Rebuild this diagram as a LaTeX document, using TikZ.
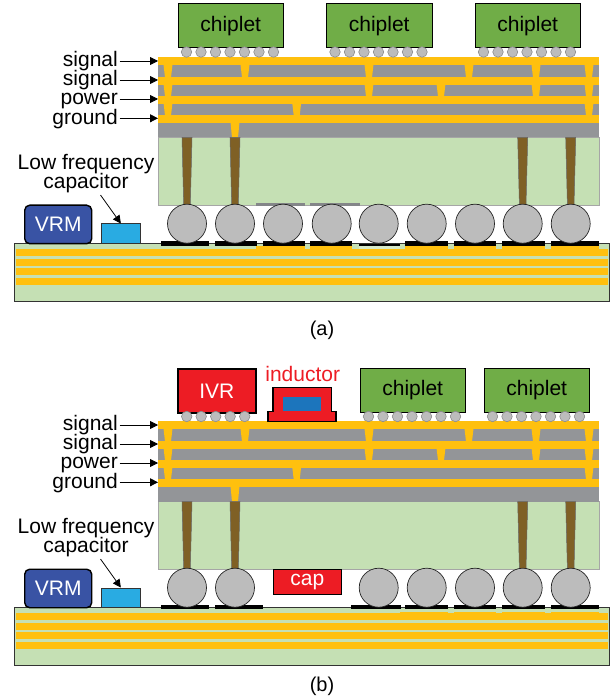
\documentclass[tikz,border=0pt]{standalone}
\usepackage{fontspec}
\setmainfont{Liberation Sans}
\usepackage{xcolor}
\usepackage{tikz}
\usetikzlibrary{arrows.meta,positioning}
\definecolor{pkgGreen}{HTML}{C5E0B4}
\definecolor{pkgOrange}{HTML}{FFC00E}
\definecolor{pkgGray}{HTML}{939598}
\definecolor{pkgBrown}{HTML}{7F6025}
\definecolor{pkgBall}{HTML}{BCBCBC}
\definecolor{pkgChip}{HTML}{70AD47}
\definecolor{pkgRed}{HTML}{ED1C24}
\definecolor{pkgVrm}{HTML}{3953A4}
\definecolor{pkgCap}{HTML}{29ABE2}
\definecolor{pkgBlue}{HTML}{1C75BC}
\tikzset{
  txt/.style={font=\fontsize{21}{19}\selectfont, inner sep=0pt, align=center},
  chiplet/.style={txt, draw=black, line width=0.9pt, fill=pkgChip, minimum width=105.5pt, minimum height=43.5pt, anchor=north west},
  ivr/.style={txt, text=white, draw=black, line width=1.6pt, fill=pkgRed, minimum width=78pt, minimum height=44pt, anchor=north west},
  vrm/.style={txt, text=white, draw=black, line width=1.4pt, fill=pkgVrm, rounded corners=5pt, minimum width=67pt, minimum height=38.5pt, anchor=north west},
  lfcap/.style={draw=black!80, line width=0.7pt, fill=pkgCap, minimum width=39pt, minimum height=19.5pt, inner sep=0pt, anchor=north west},
  ballcap/.style={txt, text=white, draw=black, line width=1.2pt, fill=pkgRed, minimum width=68pt, minimum height=25pt, anchor=north west},
  ball/.style={circle, draw=black!85, line width=0.7pt, fill=pkgBall, minimum size=39pt, inner sep=0pt},
  ubump/.style={circle, draw=black!45, line width=0.6pt, fill=pkgBall, minimum size=10.5pt, inner sep=0pt},
  lbl/.style={txt, anchor=east, text height=15pt, text depth=3.5pt},
  lblarrow/.style={-{Triangle[length=8pt,width=8pt]}, line width=0.8pt},
  metal/.style={fill=pkgOrange},
  tsv/.style={fill=pkgBrown, draw=black!60, line width=0.5pt}
}
% trapezoid via: centre x, top y, bottom y
\newcommand{\pkgvia}[3]{\fill[metal] (#1-4.5,#2-0.5) -- (#1+4.5,#2-0.5) -- (#1+3,#3+0.5) -- (#1-3,#3+0.5) -- cycle;}
% the part both drawings share: interposer, routing layers, TSVs, board, VRM and labels
\newcommand{\pkgcommon}{
  % board
  \draw[fill=pkgGreen, draw=black!80, line width=0.8pt] (14.5,243) rectangle (609,301);
  \foreach \y in {249,259,268,278}
    \fill[metal] (15.5,\y) rectangle (608,\y+7);
  % interposer
  \draw[fill=pkgGreen, draw=black!35, line width=0.7pt] (158,137) rectangle (599,205);
  \fill[pkgGray] (158,57) rectangle (599,137.5);
  \foreach \y in {57,77,96,115}
    \fill[metal] (158,\y) rectangle (599,\y+8);
  \foreach \x in {168,245,369,469,536,589} {\pkgvia{\x}{65}{77}}
  \foreach \x in {168,369,441,536,589} {\pkgvia{\x}{84}{96}}
  \foreach \x in {168,296.7,589} {\pkgvia{\x}{103}{115}}
  \pkgvia{235}{122.5}{137}
  \foreach \x in {187,235,522.7,570.7}
    \draw[tsv] (\x-5,137.5) -- (\x+5,137.5) -- (\x+3.3,205) -- (\x-3.3,205) -- cycle;
  % labels
  \node[lbl] (sig1) at (118,61) {signal};
  \node[lbl] (sig2) at (118,80) {signal};
  \node[lbl] (pwr) at (118,99) {power};
  \node[lbl] (gnd) at (118,118.3) {ground};
  \coordinate (sig1in) at (158,61);
  \coordinate (sig2in) at (158,80);
  \coordinate (pwrin) at (158,99);
  \coordinate (gndin) at (158,118.3);
  \draw[lblarrow, shorten <=1.5pt] (sig1) -- (sig1in);
  \draw[lblarrow, shorten <=1.5pt] (sig2) -- (sig2in);
  \draw[lblarrow, shorten <=1.5pt] (pwr) -- (pwrin);
  \draw[lblarrow, shorten <=1.5pt] (gnd) -- (gndin);
  \node[vrm] (vrm) at (24,204.5) {VRM};
  \node[lfcap] (lfc) at (101,223.5) {};
  \node[txt] (lftxt) at (86,173.8) {Low frequency\\[-1.5pt]capacitor};
  \coordinate (lfstart) at (100.5,195);
  \draw[lblarrow] (lfstart) -- (lfc.north);
}
\begin{document}
\begin{tikzpicture}[x=1pt,y=-1pt]
  \useasboundingbox (0,0) rectangle (612,700);
  \begin{scope}[name prefix=a-]
    \pkgcommon
    % pads
    \foreach \x/\w in {256/49,310/42,405/43,454/42,502/43,551/48}
      \fill[metal] (\x,246) rectangle (\x+\w,249);
    \fill[pkgGreen!70!white] (359,246) rectangle (400,249);
    \foreach \x/\w in {161/48,215/42,263/42,310/42,405/43,454/42,502/43,551/48}
      \fill[black] (\x,241) rectangle (\x+\w,246);
    \fill[black] (359,244.5) rectangle (400,246);
    \fill[pkgGray!90!black] (256,203) rectangle (305,206.5);
    \fill[pkgGray!90!black] (310,203) rectangle (360,206.5);
    \foreach \x [count=\i] in {187,235,283,331.7,378.7,426.7,475,522.7,570.7}
      \node[ball] (b\i) at (\x,223.7) {};
    \foreach \x [count=\i] in {177.5,326,474.5} {
      \node[chiplet] (chip\i) at (\x,3.5) {chiplet};
      \foreach \k in {0,...,6}
        \node[ubump] (u\i\k) at (\x+9+14.5*\k,52) {};
    }
    \node[txt, font=\fontsize{20}{20}\selectfont, anchor=base] (cap) at (322,335) {(a)};
  \end{scope}
  \begin{scope}[yshift=-364pt, name prefix=b-]
    \pkgcommon
    % pads
    \foreach \x/\w in {400/48,454/42,502/43,551/48}
      \fill[metal] (\x,247.5) rectangle (\x+\w,249);
    \foreach \x/\w in {161/48,215/48,351/50,405/43,454/42,502/43,551/48}
      \fill[black] (\x,241) rectangle (\x+\w,244.7);
    \foreach \x [count=\i] in {187,235,378.7,426.7,475,522.7,570.7}
      \node[ball] (b\i) at (\x,223.7) {};
    \node[ballcap] (dcap) at (272.7,205) {cap};
    \node[ivr] (ivr) at (177,4) {IVR};
    \foreach \k in {0,...,4}
      \node[ubump] (uv\k) at (186.7+14.5*\k,52.5) {};
    \draw[fill=pkgRed, draw=black, line width=1.5pt] (268,57.5) -- (268,47.5) -- (273,47.5) -- (273,23.5) -- (331.5,23.5) -- (331.5,47.5) -- (336,47.5) -- (336,57.5) -- cycle;
    \fill[pkgBlue] (283.3,33.3) rectangle (321,47.3);
    \node[txt, text=pkgRed] (ind) at (302.7,10) {inductor};
    \foreach \x [count=\i] in {359.5,483.5} {
      \node[chiplet] (chip\i) at (\x,4) {chiplet};
      \foreach \k in {0,...,6}
        \node[ubump] (u\i\k) at (\x+9+14.5*\k,52.5) {};
    }
    \node[txt, font=\fontsize{20}{20}\selectfont, anchor=base] (cap) at (322,327) {(b)};
  \end{scope}
\end{tikzpicture}
\end{document}
